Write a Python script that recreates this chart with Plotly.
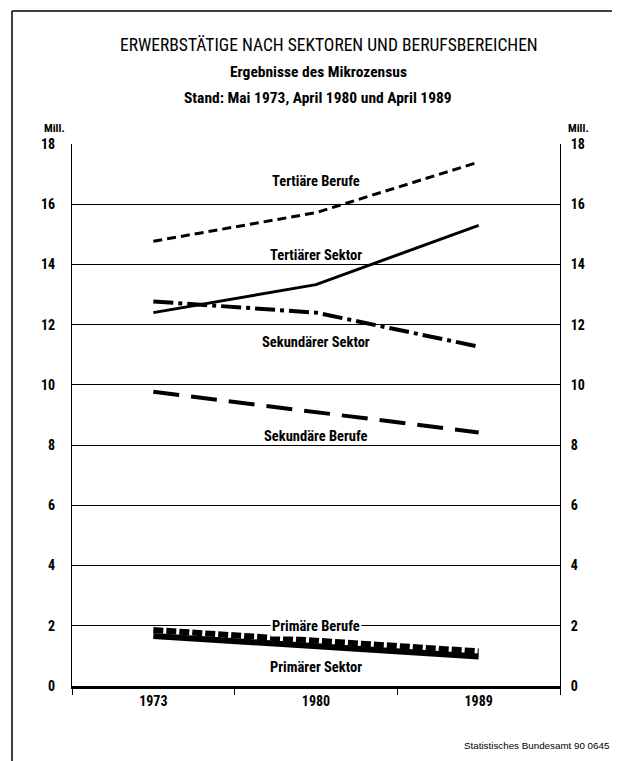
import plotly.graph_objects as go

# ---------------- data ----------------
years = ["1973", "1980", "1989"]
tertiaere_berufe = [14.77, 15.72, 17.40]
tertiaerer_sektor = [12.40, 13.33, 15.30]
sekundaerer_sektor = [12.77, 12.40, 11.27]
sekundaere_berufe = [9.77, 9.10, 8.42]
primaere_berufe = [1.86, 1.50, 1.15]
primaerer_sektor = [1.66, 1.33, 0.98]
y_ticks = [0, 2, 4, 6, 8, 10, 12, 14, 16, 18]

# series labels: (text, category index, value)
series_labels = [
    ("Tertiäre Berufe", 1, 16.75),
    ("Tertiärer Sektor", 1, 14.3),
    ("Sekundärer Sektor", 1, 11.4),
    ("Sekundäre Berufe", 1, 8.3),
    ("Primäre Berufe", 1, 1.98),
    ("Primärer Sektor", 1, 0.6),
]

title_lines = [
    "ERWERBSTÄTIGE NACH SEKTOREN UND BERUFSBEREICHEN",
    "Ergebnisse des Mikrozensus",
    "Stand: Mai 1973, April 1980 und April 1989",
]
footer = "Statistisches Bundesamt 90 0645"
unit = "Mill."

# ---------------- layout geometry ----------------
# the page body has an 8px margin; reference pixel coordinates are shifted by it
OFF = 8
W, H = 620 - OFF, 761 - OFF
L, R, T, B = 72, 560, 144, 686  # plot area in reference pixels
FONT = "Liberation Sans Narrow, Arial Narrow, Roboto Condensed, Liberation Sans, sans-serif"


def px(x):
    return (x - L) / (R - L)


def py(y):
    return (B - y) / (B - T)


fig = go.Figure()

line_specs = [
    (tertiaere_berufe, dict(color="black", width=3, dash="9px,5px")),
    (tertiaerer_sektor, dict(color="black", width=3)),
    (sekundaerer_sektor, dict(color="black", width=4, dash="20px,5px,4px,5px")),
    (sekundaere_berufe, dict(color="black", width=4, dash="26px,12px")),
    (primaerer_sektor, dict(color="black", width=6)),
    (primaere_berufe, dict(color="black", width=6, dash="10px,3px")),
]
for vals, ln in line_specs:
    fig.add_trace(go.Scatter(x=years, y=vals, mode="lines", line=ln,
                             showlegend=False, hoverinfo="skip"))

# invisible trace for right axis
fig.add_trace(go.Scatter(x=years, y=tertiaere_berufe, yaxis="y2", mode="lines",
                         line=dict(width=0), opacity=0, showlegend=False,
                         hoverinfo="skip"))

for text, xi, yv in series_labels:
    fig.add_annotation(x=xi, y=yv, xref="x", yref="y", text=text,
                       showarrow=False, yanchor="middle", xanchor="center",
                       font=dict(family=FONT, size=14.5, color="black", weight="bold"),
                       bgcolor="white" if text == "Primäre Berufe" else None,
                       borderpad=1)


def paper_text(x, y, text, size, bold=True, xanchor="center", family=FONT):
    fig.add_annotation(x=px(x), y=py(y), xref="paper", yref="paper", text=text,
                       showarrow=False, xanchor=xanchor, yanchor="middle",
                       font=dict(family=family, size=size, color="black",
                                 weight="bold" if bold else "normal"))


# titles
paper_text(329, 45, title_lines[0], 17.5, bold=False)
paper_text(318, 72, title_lines[1], 15.5)
paper_text(318, 98, title_lines[2], 15.5)
# unit labels
paper_text(42, 128, unit, 11.5, xanchor="left")
paper_text(566, 128, unit, 11.5, xanchor="left")
# footer
paper_text(612, 745, footer, 9.8, bold=False, xanchor="right",
           family="Liberation Sans, Arial, sans-serif")

# outer frame
frame = [(12, 11, 12, 761), (12, 11, 616, 11), (616, 11, 616, 735)]
for x0, y0, x1, y1 in frame:
    fig.add_shape(type="line", xref="paper", yref="paper",
                  x0=px(x0), y0=py(y0), x1=px(x1), y1=py(y1),
                  line=dict(color="black", width=1.5))

tickfont = dict(family=FONT, size=14, color="black", weight="bold")
fig.update_layout(
    width=W, height=H,
    margin=dict(l=L - OFF, r=W - (R - OFF), t=T - OFF, b=H - (B - OFF)),
    paper_bgcolor="white", plot_bgcolor="white",
    xaxis=dict(type="category", range=[-0.5, 2.5], showgrid=False,
               tickson="boundaries", ticks="outside", ticklen=6, tickwidth=1,
               tickcolor="black", showline=True, linecolor="black", linewidth=2.5,
               tickfont=tickfont, zeroline=False, fixedrange=True),
    yaxis=dict(range=[0, 18], tickvals=y_ticks, showgrid=True, gridcolor="black",
               gridwidth=1, showline=True, linecolor="black", linewidth=1,
               zeroline=False, tickfont=tickfont, ticks="", ticklabelstandoff=13,
               fixedrange=True),
    yaxis2=dict(range=[0, 18], tickvals=y_ticks, overlaying="y", side="right",
                showgrid=False, showline=True, linecolor="black", linewidth=1,
                zeroline=False, tickfont=tickfont, ticks="", ticklabelstandoff=7,
                fixedrange=True),
)

fig.write_html("out.html")
